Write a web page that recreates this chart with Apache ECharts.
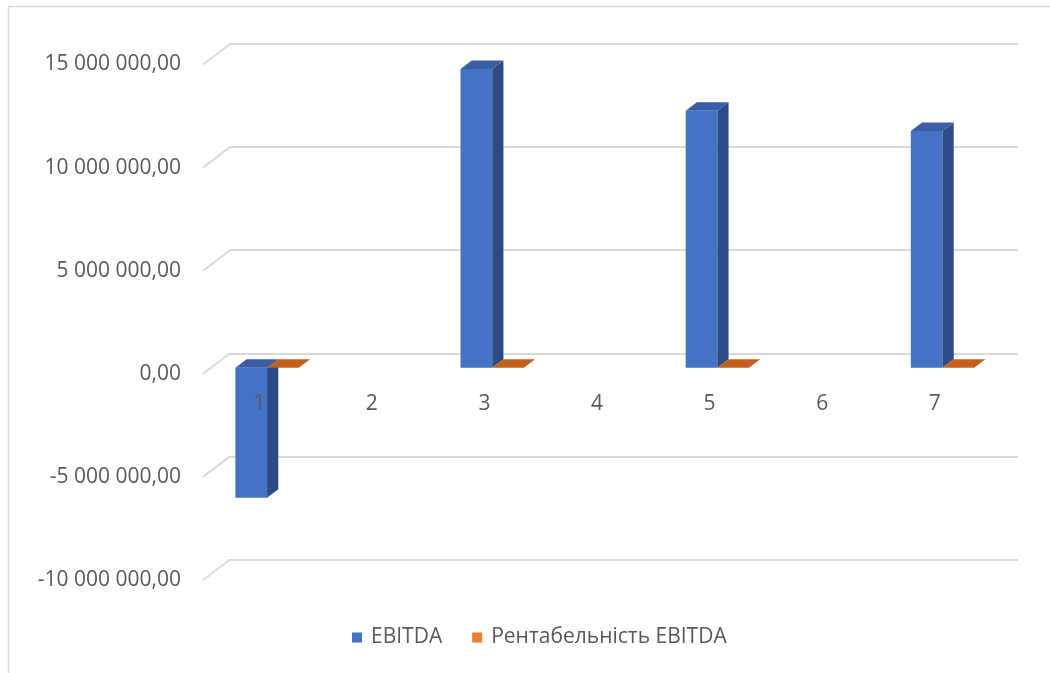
<!DOCTYPE html>
<html>
<head>
<meta charset="utf-8">
<script src="https://cdn.jsdelivr.net/npm/echarts@6/dist/echarts.min.js"></script>
<style>
  html, body { margin: 0; padding: 0; background: #fff; }
  #chart { width: 1050px; height: 673px; }
</style>
</head>
<body>
<div id="chart"></div>
<script>
// Chart data
const categories = ['1', '2', '3', '4', '5', '6', '7'];
const ebitda = [-6300000, null, 14490000, null, 12460000, null, 11490000];
const ebitdaMargin = [0, null, 0, null, 0, null, 0];
const yTicks = [-10000000, -5000000, 0, 5000000, 10000000, 15000000];

const Y_MIN = -10000000, Y_MAX = 15000000, Y_STEP = 5000000;
const FONT = '"Open Sans", sans-serif';
const FONT_SIZE = 21;
const TEXT = '#595959';
const WALL = '#d9d9d9';

// Oblique depth of the 3D box: back wall sits up/right of the front plane
const DEPTH_X = 27, DEPTH_Y = -20.5;
// Bar prism front and back planes, measured from the back wall
const BAR_FRONT = [-19.2, 14.5], BAR_BACK = [-8, 6];
const BAR_FRAC = 0.2816;
// Category labels sit this far below the zero line of the front plane
const CAT_LABEL_GAP = 20;

function fmt(v) {
  const neg = v < 0;
  const s = Math.abs(Math.round(v)).toString().replace(/\B(?=(\d{3})+(?!\d))/g, ' ');
  return (neg ? '-' : '') + s + ',00';
}

function toPairs(arr) {
  const out = [];
  arr.forEach((v, i) => { if (v !== null) out.push([i, v]); });
  return out;
}

function prism(slot, faces) {
  return function (params, api) {
    const idx = api.value(0), v = api.value(1);
    const c0 = api.coord([idx, 0]);
    const c1 = api.coord([idx, v]);
    const band = api.size([1, 0])[0];
    const w = band * BAR_FRAC;
    const xl = c0[0] + (slot === 0 ? -w : 0), xr = xl + w;
    const yt = Math.min(c0[1], c1[1]), yb = Math.max(c0[1], c1[1]);
    const F = BAR_FRONT, B = BAR_BACK;
    const children = [];
    if (yb - yt > 0.5) {
      children.push({
        type: 'polygon',
        shape: { points: [[xl + F[0], yt + F[1]], [xr + F[0], yt + F[1]], [xr + F[0], yb + F[1]], [xl + F[0], yb + F[1]]] },
        style: { fill: faces.front }
      });
      children.push({
        type: 'polygon',
        shape: { points: [[xr + F[0], yt + F[1]], [xr + B[0], yt + B[1]], [xr + B[0], yb + B[1]], [xr + F[0], yb + F[1]]] },
        style: { fill: faces.side }
      });
    }
    children.push({
      type: 'polygon',
      shape: { points: [[xl + F[0], yt + F[1]], [xr + F[0], yt + F[1]], [xr + B[0], yt + B[1]], [xl + B[0], yt + B[1]]] },
      style: { fill: faces.top }
    });
    return { type: 'group', children: children };
  };
}

const chart = echarts.init(document.getElementById('chart'), null, { renderer: 'canvas' });

chart.setOption({
  backgroundColor: '#fff',
  animation: false,
  graphic: [{
    type: 'rect',
    shape: { x: 8.5, y: 6.5, width: 1200, height: 800 },
    style: { fill: 'none', stroke: WALL, lineWidth: 1.5 },
    silent: true
  }],
  legend: {
    data: ['EBITDA', 'Рентабельність EBITDA'],
    left: 347,
    top: 622,
    icon: 'rect',
    itemWidth: 10,
    itemHeight: 10,
    itemGap: 30,
    textStyle: { fontFamily: FONT, fontSize: FONT_SIZE, color: TEXT, padding: [0, 0, 0, 4] }
  },
  grid: [
    // front plane: axis labels
    { left: 203, right: 59, top: 64.5, bottom: 93 },
    // back wall: gridlines and bars
    { left: 230, right: 32, top: 44, bottom: 113.5 }
  ],
  xAxis: [
    {
      gridIndex: 0, type: 'category', data: categories, boundaryGap: true,
      axisLine: { show: false }, axisTick: { show: false }, axisLabel: { show: false }
    },
    {
      gridIndex: 1, type: 'category', data: categories, boundaryGap: true, show: false
    }
  ],
  yAxis: [
    {
      gridIndex: 0, type: 'value', min: Y_MIN, max: Y_MAX, interval: Y_STEP,
      axisLine: { show: false }, axisTick: { show: false }, splitLine: { show: false },
      axisLabel: { fontFamily: FONT, fontSize: FONT_SIZE, color: TEXT, margin: 22, formatter: fmt }
    },
    {
      gridIndex: 1, type: 'value', min: Y_MIN, max: Y_MAX, interval: Y_STEP,
      axisLine: { show: false }, axisTick: { show: false }, axisLabel: { show: false },
      splitLine: { show: true, lineStyle: { color: WALL, width: 2 } }
    }
  ],
  series: [
    {
      // diagonal floor edges joining front labels to the back wall lines
      type: 'custom', name: 'edges', xAxisIndex: 0, yAxisIndex: 0, silent: true,
      data: yTicks.map(v => [0, v]),
      renderItem: function (params, api) {
        const y = api.coord([0, api.value(1)])[1];
        const x = params.coordSys.x;
        return {
          type: 'line',
          shape: { x1: x, y1: y, x2: x + DEPTH_X, y2: y + DEPTH_Y },
          style: { stroke: WALL, lineWidth: 2 }
        };
      },
      z: 1
    },
    {
      type: 'custom', name: 'EBITDA', xAxisIndex: 1, yAxisIndex: 1,
      itemStyle: { color: '#4472c4' },
      data: toPairs(ebitda),
      renderItem: prism(0, { front: '#4472c4', side: '#2c4b86', top: '#3a5ea6' }),
      z: 3
    },
    {
      type: 'custom', name: 'Рентабельність EBITDA', xAxisIndex: 1, yAxisIndex: 1,
      itemStyle: { color: '#ed7d31' },
      data: toPairs(ebitdaMargin),
      renderItem: prism(1, { front: '#ed7d31', side: '#ae5a23', top: '#c55f1e' }),
      z: 4
    },
    {
      // category labels along the zero line of the front plane, drawn over the bars
      type: 'custom', name: 'categoryLabels', xAxisIndex: 0, yAxisIndex: 0, silent: true,
      data: categories.map((c, i) => [i, 0]),
      renderItem: function (params, api) {
        const p = api.coord([api.value(0), 0]);
        return {
          type: 'text',
          x: p[0], y: p[1] + CAT_LABEL_GAP,
          style: {
            text: categories[params.dataIndex],
            fontFamily: FONT, fontSize: FONT_SIZE, fill: TEXT,
            align: 'center', verticalAlign: 'top'
          }
        };
      },
      z: 6
    }
  ]
});
</script>
</body>
</html>
